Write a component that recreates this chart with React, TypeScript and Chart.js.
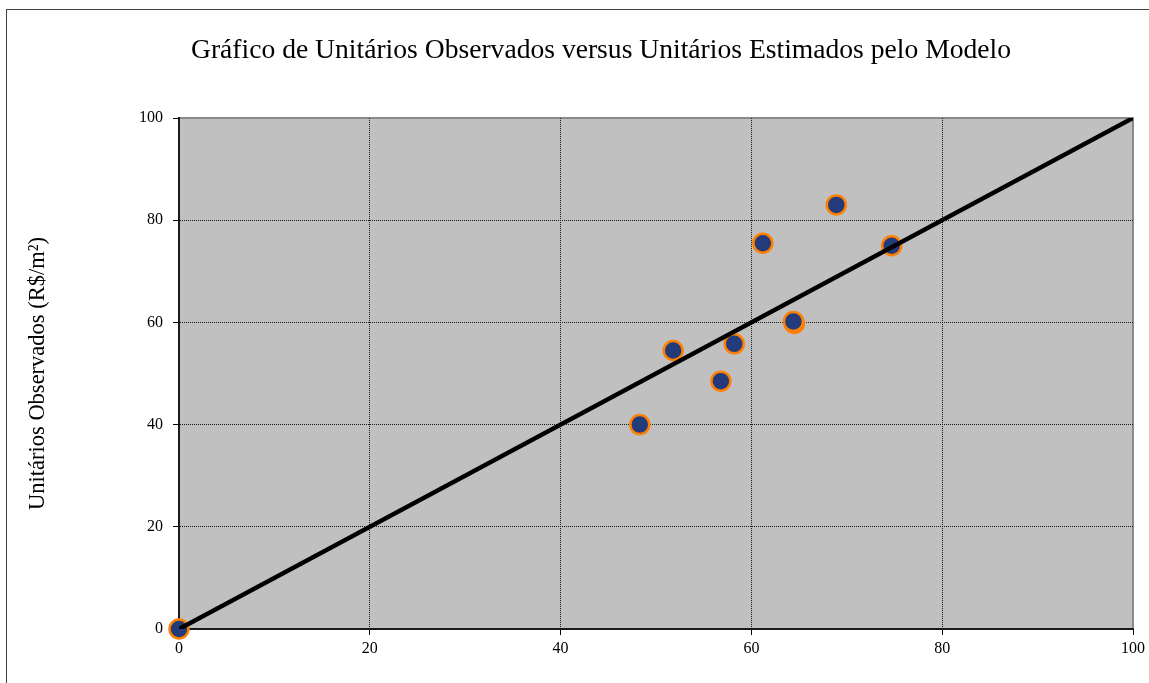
import { useEffect, useRef } from "react";
import { Chart, registerables } from "chart.js";

Chart.register(...registerables);

// ---- data ----
const estimatedValues = [0, 48.3, 51.8, 56.8, 58.2, 61.2, 64.5, 64.4, 68.9, 74.7];
const observedValues = [0, 40.0, 54.5, 48.5, 55.8, 75.5, 59.8, 60.2, 83.0, 75.0];
const referenceX = [0, 100];
const referenceY = [0, 100];
const axisMin = 0;
const axisMax = 100;
const axisStep = 20;
const chartTitle = "Gráfico de Unitários Observados versus Unitários Estimados pelo Modelo";
const yAxisTitle = "Unitários Observados (R$/m²)";

const SERIF = "'Liberation Serif', 'Times New Roman', 'DejaVu Serif', serif";

const framePlugin = {
  id: "frame",
  beforeDraw(chart: any) {
    const { ctx, chartArea: a } = chart;
    ctx.save();
    // outer chart border
    ctx.strokeStyle = "#404040";
    ctx.lineWidth = 1;
    ctx.strokeRect(6.5, 9.5, chart.width + 100, chart.height + 100);
    // plot area fill
    ctx.fillStyle = "#C0C0C0";
    ctx.fillRect(a.left, a.top, a.right - a.left, a.bottom - a.top);
    // gray top / right borders
    ctx.strokeStyle = "#8A8A8A";
    ctx.lineWidth = 2;
    ctx.beginPath();
    ctx.moveTo(a.left, a.top);
    ctx.lineTo(a.right, a.top);
    ctx.lineTo(a.right, a.bottom);
    ctx.stroke();
    ctx.restore();
  },
};

const gridColor = (c: any) =>
  c.tick && (c.tick.value === axisMin || c.tick.value === axisMax) ? "rgba(0,0,0,0)" : "#1a1a1a";

export default function App() {
  const ref = useRef<HTMLCanvasElement | null>(null);

  useEffect(() => {
    document.body.style.margin = "0";
    const canvas = ref.current;
    if (!canvas) return;

    const scatterData = estimatedValues.map((x, i) => ({ x, y: observedValues[i] }));
    const lineData = referenceX.map((x, i) => ({ x, y: referenceY[i] }));

    const chart = new Chart(canvas, {
      type: "scatter",
      data: {
        datasets: [
          {
            type: "line",
            label: "Referência",
            data: lineData,
            borderColor: "#000000",
            borderWidth: 4.5,
            pointRadius: 0,
            fill: false,
            order: 0,
          } as any,
          {
            type: "scatter",
            label: "Unitários",
            data: scatterData,
            backgroundColor: "#233A7B",
            borderColor: "#FF8000",
            borderWidth: 2.5,
            pointRadius: 9.5,
            clip: false,
            order: 1,
          } as any,
        ],
      },
      plugins: [framePlugin],
      options: {
        responsive: false,
        animation: false,
        events: [],
        layout: { padding: { left: 69, right: 16, top: 0, bottom: 0 } },
        plugins: {
          legend: { display: false },
          tooltip: { enabled: false },
          title: {
            display: true,
            text: chartTitle,
            color: "#000",
            font: { family: SERIF, size: 27.6, weight: "normal" },
            padding: { top: 34, bottom: 50.9 },
          },
        },
        scales: {
          x: {
            type: "linear",
            min: axisMin,
            max: axisMax,
            ticks: {
              stepSize: axisStep,
              color: "#000",
              padding: 4,
              font: { family: SERIF, size: 16 },
            },
            grid: {
              color: gridColor,
              lineWidth: 1,
              tickLength: 6,
              tickColor: "#000",
              tickWidth: 1,
            },
            border: { display: true, color: "#1a1a1a", width: 2, dash: [1, 1] },
            afterFit: (s: any) => {
              s.height = 54;
            },
          },
          y: {
            type: "linear",
            min: axisMin,
            max: axisMax,
            ticks: {
              stepSize: axisStep,
              color: "#000",
              padding: 10,
              font: { family: SERIF, size: 16 },
            },
            grid: {
              color: gridColor,
              lineWidth: 1,
              tickLength: 6,
              tickColor: "#000",
              tickWidth: 1,
            },
            border: { display: true, color: "#1a1a1a", width: 2, dash: [1, 1] },
            title: {
              display: true,
              text: yAxisTitle,
              color: "#000",
              font: { family: SERIF, size: 22.5, weight: "normal" },
              padding: { top: -44.5, bottom: 0 },
            },
            afterFit: (s: any) => {
              s.width = 110;
            },
          },
        },
      } as any,
    });

    return () => chart.destroy();
  }, []);

  return (
    <canvas
      ref={ref}
      width={1149}
      height={683}
      style={{ display: "block", width: "1149px", height: "683px" }}
    />
  );
}
